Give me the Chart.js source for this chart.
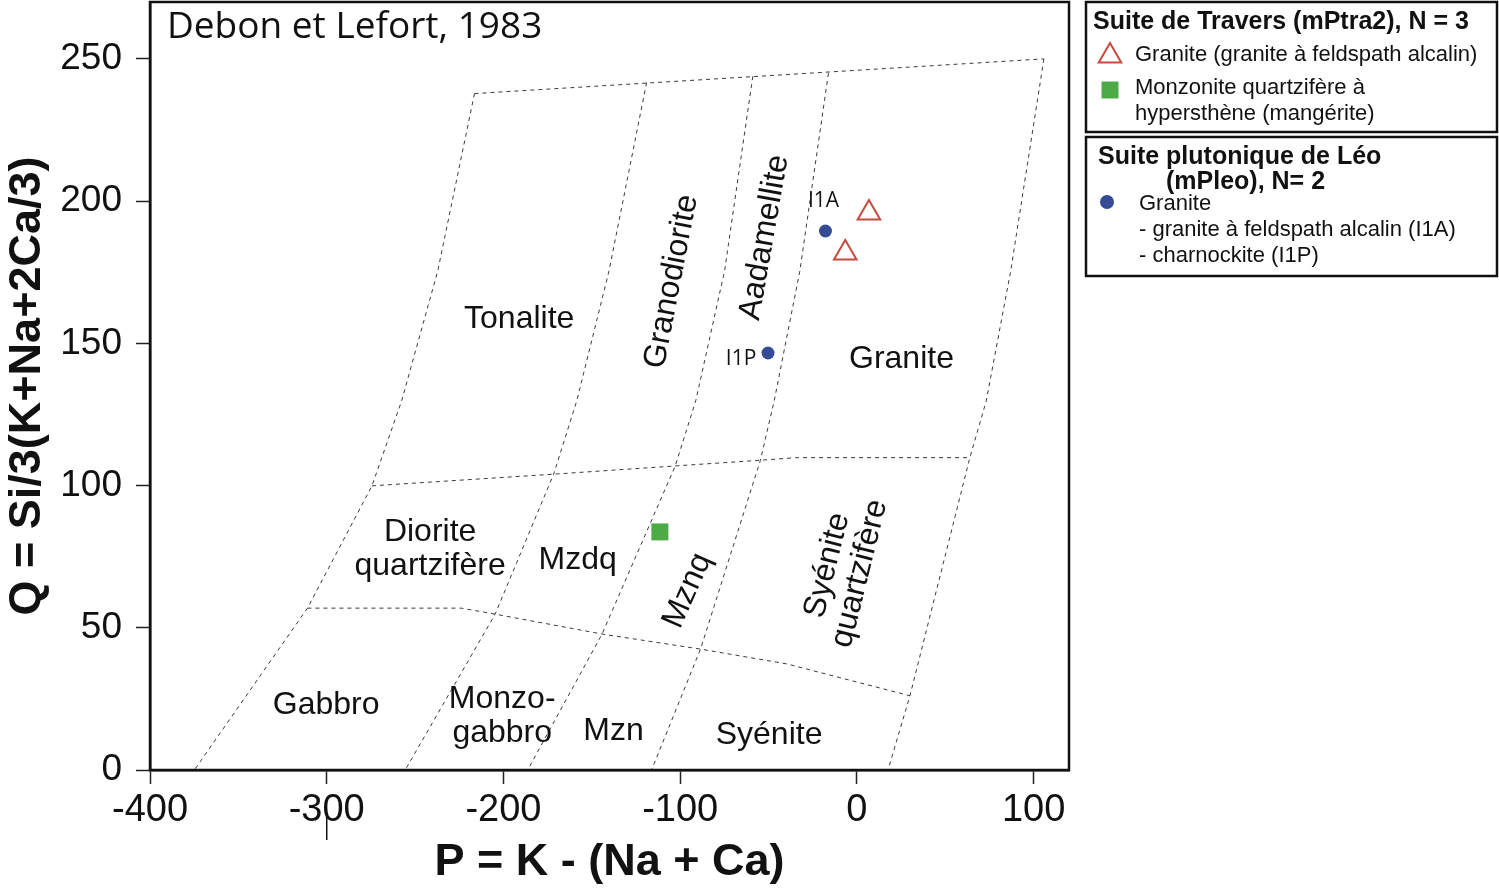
<!DOCTYPE html>
<html>
<head>
<meta charset="utf-8">
<title>Debon et Lefort, 1983</title>
<script src="https://cdn.jsdelivr.net/npm/chart.js@4.4.1/dist/chart.umd.min.js"></script>
<style>
  html, body { margin: 0; padding: 0; background: #fff; }
  #wrap { width: 1499px; height: 895px; }
</style>
</head>
<body>
<div id="wrap"><canvas id="pq" width="1499" height="895"></canvas></div>
<script>
// P-Q field boundaries as [P, Q]
const topEdge = [[-216.4, 237.8], [105.8, 250.0]];
const lineA = [[-216.4, 237.8], [-237.2, 175.4], [-257.6, 129.8], [-274.4, 99.9], [-310.9, 56.9], [-374.9, 0]];
const lineB = [[-119.0, 241.7], [-140.3, 175.4], [-158.5, 129.8], [-171.6, 104.0], [-204.7, 54.8], [-255.6, 0]];
const lineC = [[-58.9, 243.9], [-74.9, 175.4], [-91.2, 129.8], [-102.8, 106.9], [-144.2, 47.8], [-186.3, 0]];
const lineD = [[-16.1, 245.0], [-32.3, 175.4], [-46.8, 129.8], [-54.6, 108.9], [-88.5, 42.5], [-116.2, 0]];
const lineE = [[105.8, 250.0], [87.0, 175.4], [73.2, 129.8], [63.9, 109.8], [30.0, 26.1], [17.6, 0]];
const midEdge = [[-274.4, 99.9], [-171.6, 104.0], [-102.8, 106.9], [-54.6, 108.9], [-34.7, 109.8], [63.9, 109.8]];
const lowEdge = [[-310.9, 56.9], [-223.9, 56.9], [-204.7, 54.8], [-144.2, 47.8], [-88.5, 42.5], [-39.7, 37.3], [30.0, 26.1]];

// samples
const traversGranite = [[6.8, 195.8], [-6.6, 181.8]];
const traversMonzonite = [[-111.5, 83.7]];
const leoGranite = [[-17.8, 189.5], [-50.3, 146.6]];
const leoNames = ["I1A", "I1P"];

// field names and their anchor in P-Q units
const fieldNames = ["Tonalite", "Granodiorite", "Aadamellite", "Granite", "Diorite\nquartzifère", "Mzdq",
  "Mznq", "Syénite\nquartzifère", "Gabbro", "Monzo-\ngabbro", "Mzn", "Syénite"];
const fieldP = [-191.1, -106.3, -53.7, 25.2, -241.5, -158.0, -97.2, -9.0, -300.3, -200.7, -137.7, -49.7];
const fieldQ = [159.4, 171.9, 187.4, 145.2, 78.6, 74.8, 63.4, 70.7, 23.8, 19.8, 14.5, 13.1];

const xTicks = [-400, -300, -200, -100, 0, 100];
const yTicks = [0, 50, 100, 150, 200, 250];

const toXY = arr => arr.map(p => ({ x: p[0], y: p[1] }));

const FONT = '"Liberation Sans", Arial, sans-serif';
const fieldAngle = { "Granodiorite": -79, "Aadamellite": -80, "Mznq": -66, "Syénite\nquartzifère": -76 };

function boundary(points) {
    return {
        type: "line",
        data: toXY(points),
        showLine: true,
        borderColor: "#3a3a3a",
        borderWidth: 1,
        borderDash: [4, 4],
        pointRadius: 0,
        tension: 0,
        fill: false,
        order: 5
    };
}

function drawLabel(ctx, text, px, py, deg, size, gap) {
    const lines = text.split("\n");
    ctx.save();
    ctx.translate(px, py);
    ctx.rotate(deg * Math.PI / 180);
    const y0 = -(lines.length - 1) * gap / 2;
    lines.forEach((t, i) => ctx.fillText(t, 0, y0 + i * gap + size * 0.358));
    ctx.restore();
}

function marker(ctx, style, radius, fill, stroke, bw, px, py) {
    ctx.save();
    ctx.fillStyle = fill;
    ctx.strokeStyle = stroke;
    ctx.lineWidth = bw;
    Chart.helpers.drawPoint(ctx, { pointStyle: style, radius: radius, rotation: 0, borderWidth: bw }, px, py);
    ctx.restore();
}

const decor = {
    id: "decor",
    afterDraw(chart) {
        const { ctx, chartArea: a, scales: { x, y } } = chart;
        ctx.save();

        // frame
        ctx.strokeStyle = "#111";
        ctx.lineWidth = 2.5;
        ctx.strokeRect(a.left, a.top, a.right - a.left, a.bottom - a.top);

        // stray mark under -300
        ctx.lineWidth = 1.5;
        ctx.beginPath();
        ctx.moveTo(x.getPixelForValue(-300), 812);
        ctx.lineTo(x.getPixelForValue(-300), 840);
        ctx.stroke();

        // diagram title
        ctx.fillStyle = "#111";
        ctx.textAlign = "left";
        ctx.font = '37px "Open Sans", sans-serif';
        ctx.fillText("Debon et Lefort, 1983", a.left + 17, 38);

        // field names
        ctx.textAlign = "center";
        ctx.font = "32px " + FONT;
        fieldNames.forEach((name, i) => {
            drawLabel(ctx, name, x.getPixelForValue(fieldP[i]), y.getPixelForValue(fieldQ[i]),
                fieldAngle[name] || 0, 32, 33.5);
        });

        // sample names
        ctx.font = '21px "Open Sans", sans-serif';
        const p0 = leoGranite[0], p1 = leoGranite[1];
        ctx.fillText(leoNames[0], x.getPixelForValue(p0[0]) - 2, y.getPixelForValue(p0[1]) - 24);
        ctx.fillText(leoNames[1], x.getPixelForValue(p1[0]) - 27, y.getPixelForValue(p1[1]) + 12);

        // legend boxes
        ctx.lineWidth = 2.5;
        ctx.strokeRect(1086, 2, 411, 130);
        ctx.strokeRect(1086, 137, 411, 139);

        ctx.textAlign = "left";
        ctx.font = "bold 25px " + FONT;
        ctx.fillText("Suite de Travers (mPtra2), N = 3", 1093, 29);
        ctx.fillText("Suite plutonique de Léo", 1098, 164);
        ctx.fillText("(mPleo), N= 2", 1166, 189);

        ctx.font = "22px " + FONT;
        ctx.fillText("Granite (granite à feldspath alcalin)", 1135, 61);
        ctx.fillText("Monzonite quartzifère à", 1135, 94);
        ctx.fillText("hypersthène (mangérite)", 1135, 120);
        ctx.fillText("Granite", 1139, 210);
        ctx.fillText("- granite à feldspath alcalin (I1A)", 1139, 236);
        ctx.fillText("- charnockite (I1P)", 1139, 262);

        marker(ctx, "triangle", 13, "rgba(255,255,255,0)", "#c54b3c", 2, 1110, 56);
        marker(ctx, "rect", 12, "#4dab46", "#4dab46", 0, 1110, 90);
        marker(ctx, "circle", 7, "#364b95", "#364b95", 0, 1107, 202);

        ctx.restore();
    }
};

new Chart(document.getElementById("pq"), {
    type: "scatter",
    data: {
        datasets: [
            {
                label: "Granite (granite à feldspath alcalin)",
                data: toXY(traversGranite),
                pointStyle: "triangle",
                pointRadius: 13,
                borderColor: "#c54b3c",
                borderWidth: 2,
                backgroundColor: "rgba(255,255,255,0)",
                order: 0
            },
            {
                label: "Monzonite quartzifère à hypersthène (mangérite)",
                data: toXY(traversMonzonite),
                pointStyle: "rect",
                pointRadius: 12,
                borderWidth: 0,
                backgroundColor: "#4dab46",
                order: 0
            },
            {
                label: "Granite (Léo)",
                data: toXY(leoGranite),
                pointStyle: "circle",
                pointRadius: 6.5,
                borderWidth: 0,
                backgroundColor: "#364b95",
                order: 0
            },
            boundary(topEdge),
            boundary(lineA),
            boundary(lineB),
            boundary(lineC),
            boundary(lineD),
            boundary(lineE),
            boundary(midEdge),
            boundary(lowEdge)
        ]
    },
    options: {
        responsive: false,
        animation: false,
        events: [],
        layout: { autoPadding: false, padding: { top: 2, right: 430, left: 0, bottom: 0 } },
        plugins: {
            legend: { display: false },
            tooltip: { enabled: false }
        },
        scales: {
            x: {
                type: "linear",
                min: -400,
                max: 120,
                afterFit: s => { s.height = 125; s.paddingLeft = 0; s.paddingRight = 0; },
                afterBuildTicks: s => { s.ticks = xTicks.map(v => ({ value: v })); },
                border: { display: true, width: 2.5, color: "#111" },
                grid: { drawOnChartArea: false, drawTicks: true, tickLength: 14, tickWidth: 1.5, tickColor: "#222" },
                ticks: { color: "#111", font: { family: FONT, size: 38 }, padding: 4, maxRotation: 0, autoSkip: false },
                title: {
                    display: true,
                    text: "P = K - (Na + Ca)",
                    color: "#111",
                    font: { family: FONT, size: 45, weight: "bold" },
                    padding: { top: 0, bottom: 5 }
                }
            },
            y: {
                type: "linear",
                min: 0,
                max: 270,
                afterFit: s => { s.width = 150; s.paddingTop = 0; s.paddingBottom = 0; },
                afterBuildTicks: s => { s.ticks = yTicks.map(v => ({ value: v })); },
                border: { display: true, width: 2.5, color: "#111" },
                grid: { drawOnChartArea: false, drawTicks: true, tickLength: 14, tickWidth: 1.5, tickColor: "#222" },
                ticks: { color: "#111", font: { family: FONT, size: 37 }, padding: 14, autoSkip: false },
                title: {
                    display: true,
                    text: "Q = Si/3(K+Na+2Ca/3)",
                    color: "#111",
                    font: { family: FONT, size: 45, weight: "bold" },
                    padding: { top: 1, bottom: 0 }
                }
            }
        }
    },
    plugins: [decor]
});
</script>
</body>
</html>
